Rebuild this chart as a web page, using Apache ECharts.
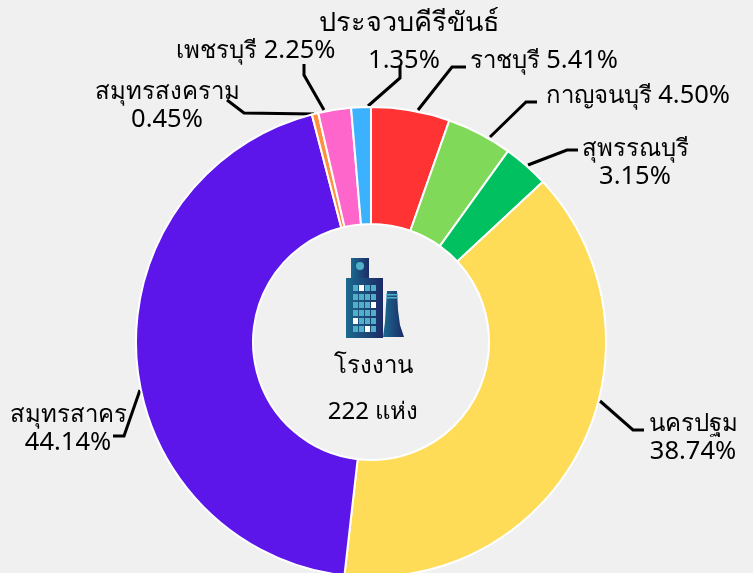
<!DOCTYPE html>
<html><head><meta charset="utf-8">
<style>html,body{margin:0;padding:0;background:#f0f0f0}#c{width:753px;height:573px}</style>
<script src="https://cdn.jsdelivr.net/npm/echarts@6/dist/echarts.min.js"></script></head>
<body><div id="c"></div>
<script>
const provinces = ['ราชบุรี','กาญจนบุรี','สุพรรณบุรี','นครปฐม','สมุทรสาคร','สมุทรสงคราม','เพชรบุรี','ประจวบคีรีขันธ์'];
const shares = [5.41,4.50,3.15,38.74,44.14,0.45,2.25,1.35];
const sliceColors = ['#ff3333','#80d958','#00c060','#ffdc58','#5c16ea','#ff9040','#ff66cc','#3cb2ff'];
const twoLine = [false,false,true,true,true,true,false,true];
const centerTitle = 'โรงงาน';
const centerCount = '222 แห่ง';

// label placement, separate from the data
const labelCenters = [[544,61],[638,96],[635,163],[693,438],[68,429],[167,106],[256,51],[407,42]];
const leaders = [
  [[418,110],[452,67],[466,67]],
  [[490,137],[526,102],[537,102]],
  [[528,165],[567,150],[578,150]],
  [[600,401],[633,430],[644,430]],
  [[140,390],[124,436],[113,436]],
  [[314,114],[244,113],[227,100]],
  [[324,110],[304,75],[304,64]],
  [[368,106],[400,78],[400,66]]
];
const FONT = '"Noto Sans","DejaVu Sans",sans-serif';
const THAI = 24, NUM = 25.5, THAI_LARGE = 27;

const chart = echarts.init(document.getElementById('c'));
const grad = {type:'linear',x:0,y:0,x2:1,y2:0,colorStops:[{offset:0,color:'#1b6a90'},{offset:1,color:'#1c2a66'}]};
const windows = [];
const whiteCells = ['0,1','2,3','4,0','5,2'];
[285,294,302,310,318,326].forEach((y,r)=>{[353,359,365,371].forEach((x,c)=>{
  windows.push({type:'rect',shape:{x,y,width:5,height:6},style:{fill:whiteCells.includes(r+','+c)?'#ffffff':'#4fb0c8'}});
});});
const ink = {color:'#000',fontFamily:FONT,fontWeight:400};

chart.setOption({
  backgroundColor:'#f0f0f0',
  animation:false,
  series:[{
    type:'pie',
    center:[371,342],
    radius:[118,235],
    startAngle:90,
    clockwise:true,
    avoidLabelOverlap:false,
    itemStyle:{borderColor:'#ffffff',borderWidth:2},
    label:{show:true,...ink,fontSize:THAI,align:'center',
      formatter:p=>{
        const t = p.dataIndex===7 ? 't' : '';
        return '{n'+t+'|'+p.name+'}'+(twoLine[p.dataIndex]?'\n':'{n| }')+'{v'+t+'|'+p.value.toFixed(2)+'%}';
      },
      rich:{
        n:{...ink,fontSize:THAI,lineHeight:28,align:'center'},
        v:{...ink,fontSize:NUM,lineHeight:28,align:'center'},
        nt:{...ink,fontSize:THAI_LARGE,lineHeight:38,align:'center',padding:[0,0,0,4]},
        vt:{...ink,fontSize:NUM,lineHeight:38,align:'center',padding:[0,6,0,0]}
      }},
    labelLine:{show:true,lineStyle:{color:'#000000',width:3}},
    labelLayout:p=>({
      hideOverlap:false,moveOverlap:false,
      x:labelCenters[p.dataIndex][0],y:labelCenters[p.dataIndex][1],
      align:'center',verticalAlign:'middle',
      labelLinePoints:leaders[p.dataIndex]
    }),
    data:provinces.map((name,i)=>({name,value:shares[i],itemStyle:{color:sliceColors[i]}})),
  }],
  graphic:[
    {type:'group',children:[
      {type:'rect',shape:{x:351,y:258,width:18,height:21},style:{fill:grad}},
      {type:'circle',shape:{cx:360,cy:266,r:4},style:{fill:'#4fb0c8'}},
      {type:'rect',shape:{x:346,y:278,width:37,height:60},style:{fill:grad}},
      {type:'polygon',shape:{points:[[387,291],[397,291],[398,310],[400,325],[404,337],[383,337],[385,322],[386,305]]},style:{fill:grad}},
      {type:'rect',shape:{x:386,y:294,width:12,height:1.5},style:{fill:'#4fb0c8'}},
      {type:'rect',shape:{x:386,y:297,width:12,height:1.5},style:{fill:'#4fb0c8'}},
      ...windows
    ]},
    {type:'text',style:{x:373,y:366,text:centerTitle,align:'center',verticalAlign:'middle',fill:'#000',font:'400 '+THAI+'px '+FONT}},
    {type:'text',style:{x:373,y:412,text:centerCount,align:'center',verticalAlign:'middle',fill:'#000',font:'400 '+THAI+'px '+FONT}}
  ]
});
</script></body></html>
